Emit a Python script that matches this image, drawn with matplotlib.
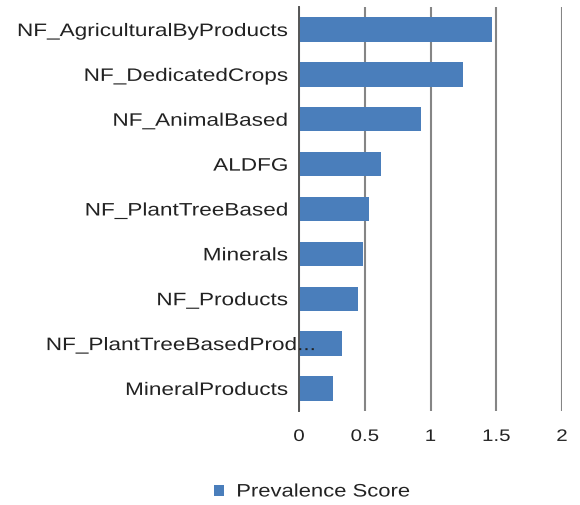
import matplotlib
matplotlib.use("Agg")
import matplotlib.pyplot as plt
import matplotlib.transforms as mtransforms
from matplotlib.patheffects import AbstractPathEffect

# categories listed top to bottom
categories = ["NF_AgriculturalByProducts", "NF_DedicatedCrops", "NF_AnimalBased",
              "ALDFG", "NF_PlantTreeBased", "Minerals", "NF_Products",
              "NF_PlantTreeBasedProd...", "MineralProducts"]
scores = [1.465, 1.25, 0.93, 0.62, 0.53, 0.49, 0.45, 0.33, 0.26]
x_ticks = [0, 0.5, 1, 1.5, 2]
x_tick_labels = ["0", "0.5", "1", "1.5", "2"]


class Stretch(AbstractPathEffect):
    """Widen text horizontally around its left/center/right edge."""

    def __init__(self, sx, pivot="center"):
        super().__init__()
        self.sx = sx
        self.pivot = pivot

    def draw_path(self, renderer, gc, tpath, affine, rgbFace=None):
        bb = tpath.get_extents(affine)
        px = {"left": bb.x0, "right": bb.x1, "center": (bb.x0 + bb.x1) / 2}[self.pivot]
        aff = affine + mtransforms.Affine2D().translate(-px, 0).scale(self.sx, 1).translate(px, 0)
        renderer.draw_path(gc, tpath, aff, rgbFace)


plt.rcParams['font.family'] = ['Liberation Sans', 'DejaVu Sans']

fig = plt.figure(figsize=(5.8, 5.06), dpi=100)
ax = fig.add_axes([0.5155, 0.186, 0.4535, 0.798])

ypos = list(range(len(categories)))
# grid lines behind the bars
for xv in x_ticks:
    ax.axvline(xv, color="#858585", linewidth=1.5, zorder=0)
ax.barh(ypos, scores, height=0.54, color="#4a7ebb", zorder=3,
        label="Prevalence Score")
ax.set_ylim(len(categories) - 0.5, -0.5)
ax.set_xlim(0, 2)

ax.set_xticks(x_ticks)
ax.set_xticklabels(x_tick_labels, fontsize=12, color="#222222")
ax.set_yticks(ypos)
ax.set_yticklabels(categories, fontsize=13, color="#222222")
ax.tick_params(axis="both", length=0)
ax.tick_params(axis="y", pad=8)
ax.tick_params(axis="x", pad=13)
ax.yaxis.set_zorder(5)

for lab in ax.get_xticklabels():
    lab.set_path_effects([Stretch(1.23, "center")])
for lab in ax.get_yticklabels():
    lab.set_path_effects([Stretch(1.25, "right")])
    # long label spills over the axis line
    if lab.get_text().endswith("..."):
        lab.set_transform(lab.get_transform() +
                          mtransforms.ScaledTranslation(0.27, 0, fig.dpi_scale_trans))

for side in ["top", "right", "bottom"]:
    ax.spines[side].set_visible(False)
ax.spines["left"].set_color("#555555")
ax.spines["left"].set_linewidth(1.4)
ax.spines["left"].set_zorder(4)

leg = fig.legend(loc="center left", bbox_to_anchor=(214 / 580, 1 - 493 / 506),
                 frameon=False, fontsize=13, handlelength=0.55, handleheight=0.55,
                 handletextpad=0.7, borderpad=0, borderaxespad=0,
                 labelcolor="#222222")
for t in leg.get_texts():
    t.set_path_effects([Stretch(1.22, "left")])

fig.savefig("out.png", dpi=100)
